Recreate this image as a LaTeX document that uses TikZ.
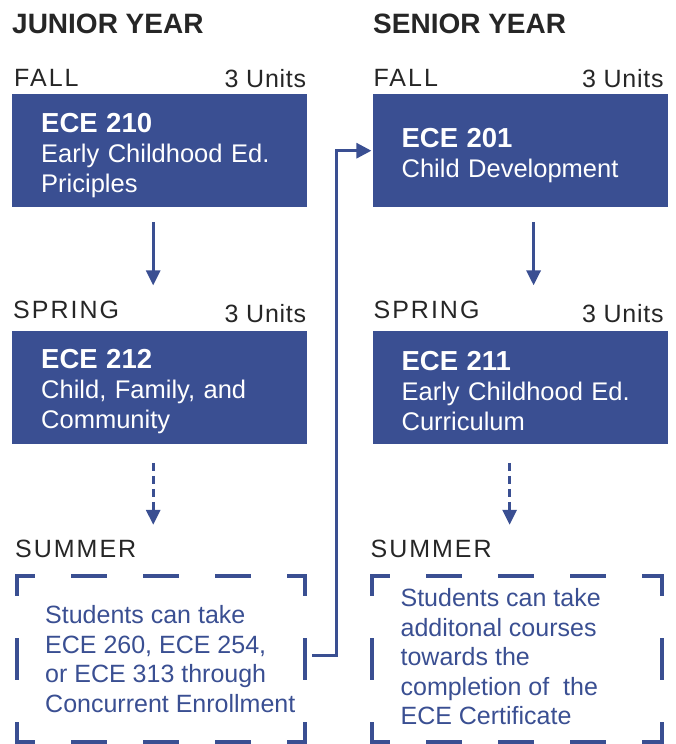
\documentclass[tikz,border=0pt]{standalone}
\usepackage{fontspec}
\setmainfont{Liberation Sans}
\newfontfamily\termfont[LetterSpace=8]{Liberation Sans}
\newfontfamily\unitfont[LetterSpace=3]{Liberation Sans}
\usepackage{tikz}
\usetikzlibrary{arrows.meta,positioning}
\definecolor{eceblue}{RGB}{58,79,146}
\definecolor{labelgray}{RGB}{38,38,38}

\begin{document}
\begin{tikzpicture}[x=1pt,y=-1pt,>={Triangle[width=14pt,length=15pt]},
                    node distance=65pt]
  \tikzstyle{course}=[rectangle,fill=eceblue,text=white,minimum width=295pt,
    minimum height=113pt,text width=237pt,inner xsep=29pt,inner ysep=0pt,
    text height=28pt,align=left,font=\fontsize{25.5}{30}\selectfont]
  \tikzstyle{year}=[anchor=base west,inner sep=0pt,text=labelgray,
    font=\fontsize{28}{30}\selectfont\bfseries]
  \tikzstyle{term}=[anchor=base west,inner sep=0pt,text=labelgray,
    font=\fontsize{25}{30}\termfont]
  \tikzstyle{units}=[anchor=base east,inner sep=0pt,text=labelgray,
    font=\fontsize{25}{30}\unitfont]
  \tikzstyle{frame}=[rectangle,minimum width=288pt,minimum height=166pt,inner sep=0pt]
  \tikzstyle{note}=[anchor=west,inner sep=0pt,text=eceblue,align=left,
    font=\fontsize{25}{29.5}\selectfont]
  \tikzstyle{hdash}=[draw=eceblue,line width=4pt,line cap=rect,
    dash pattern=on 32pt off 40pt,dash phase=16pt]
  \tikzstyle{vdash}=[draw=eceblue,line width=4pt,line cap=rect,
    dash pattern=on 38pt off 46pt,dash phase=20pt]
  \tikzstyle{flow}=[->,draw=eceblue,line width=3pt]
  \tikzstyle{maybe}=[flow,dash pattern=on 8pt off 5pt]

  \useasboundingbox (0,0) rectangle (676,744);

  \node[course,anchor=north west] (f1) at (12,94)
    {\textbf{\fontsize{27.5}{30}\selectfont ECE 210}\\Early Childhood Ed.\\Priciples};
  \node[course] (f2) [right=of f1]
    {\textbf{\fontsize{27.5}{30}\selectfont ECE 201}\\Child Development};
  \node[course] (s1) [below=123pt of f1]
    {\textbf{\fontsize{27.5}{30}\selectfont ECE 212}\\Child, Family, and\\Community};
  \node[course] (s2) [below=123pt of f2]
    {\textbf{\fontsize{27.5}{30}\selectfont ECE 211}\\Early Childhood Ed.\\Curriculum};
  \node[frame] (m1) [below=132pt of s1,xshift=1.5pt] {};
  \node[frame,minimum width=289pt] (m2) [below=132pt of s2,xshift=-3pt] {};

  \node[year] (junior) at (12,33) {JUNIOR YEAR};
  \node[year] (senior) at (373,33) {SENIOR YEAR};

  \node[term] (fall1) at ([xshift=2pt,yshift=8pt]f1.north west) {FALL};
  \node[units] (u1) at ([xshift=-1pt,yshift=7pt]f1.north east) {3 Units};
  \node[term] (fall2) at ([xshift=1pt,yshift=8pt]f2.north west) {FALL};
  \node[units] (u2) at ([xshift=-4pt,yshift=7pt]f2.north east) {3 Units};
  \node[term] (spring1) at ([xshift=1pt,yshift=12pt]s1.north west) {SPRING};
  \node[units] (u3) at ([xshift=-1pt,yshift=8pt]s1.north east) {3 Units};
  \node[term] (spring2) at ([xshift=1pt,yshift=12pt]s2.north west) {SPRING};
  \node[units] (u4) at ([xshift=-4pt,yshift=8pt]s2.north east) {3 Units};
  \node[term] (summer1) at ([xshift=-2pt,yshift=18pt]m1.north west) {SUMMER};
  \node[term] (summer2) at ([xshift=-2pt,yshift=18pt]m2.north west) {SUMMER};

  \node[note] (n1) at ([xshift=28pt]m1.west)
    {Students can take\\ECE 260, ECE 254,\\or ECE 313 through\\Concurrent Enrollment};
  \node[note] (n2) at ([xshift=28pt,yshift=2pt]m2.west)
    {Students can take\\additonal courses\\towards the\\completion of\ \ the\\ECE Certificate};

  % dashed summer frames
  \foreach \m in {m1,m2} {
    \draw[hdash] (\m.north west) -- (\m.north east);
    \draw[hdash] (\m.south west) -- (\m.south east);
    \draw[vdash] (\m.north west) -- (\m.south west);
    \draw[vdash] (\m.north east) -- (\m.south east);
  }

  \draw[flow,shorten <=15pt,shorten >=45pt] ([xshift=-6.5pt]f1.south) -- ([xshift=-6.5pt]s1.north);
  \draw[flow,shorten <=15pt,shorten >=45pt] ([xshift=13.5pt]f2.south) -- ([xshift=13.5pt]s2.north);
  \draw[maybe,shorten <=19pt,shorten >=51pt] ([xshift=-6.5pt]s1.south) -- ([xshift=-8pt]m1.north);
  \draw[maybe,shorten <=19pt,shorten >=51pt] ([xshift=-10.5pt]s2.south) -- ([xshift=-7.5pt]m2.north);
  \draw[flow,>={Triangle[width=15pt,length=15pt]},shorten <=7pt,shorten >=1pt]
    ([yshift=4pt]m1.east) -| ([xshift=-36pt]f2.west) -- (f2.west);
\end{tikzpicture}
\end{document}
